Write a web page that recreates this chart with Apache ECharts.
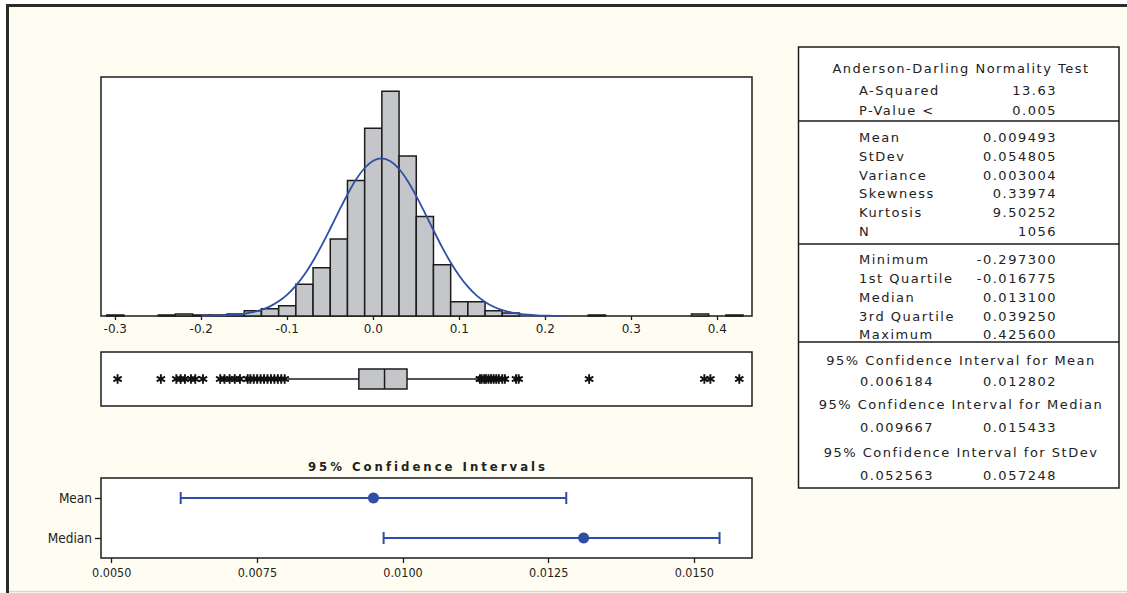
<!DOCTYPE html>
<html><head><meta charset="utf-8">
<script src="https://cdn.jsdelivr.net/npm/echarts@6/dist/echarts.min.js"></script>
<style>
html,body{margin:0;padding:0;background:#fff;}
#chart{width:1127px;height:593px;}
text[style*="Verdana"], text[font-family*="Verdana"]{letter-spacing:1.5px;}
text[style*="Tahoma"], text[font-family*="Tahoma"]{letter-spacing:3px;}
</style></head><body><div id="chart"></div>
<script>
// ---------------- data ----------------
const binWidth = 0.02;
const binCenters = [-0.30, -0.24, -0.22, -0.20, -0.18, -0.16, -0.14, -0.12, -0.10, -0.08, -0.06, -0.04, -0.02, 0.00, 0.02, 0.04, 0.06, 0.08, 0.10, 0.12, 0.14, 0.16, 0.26, 0.38, 0.42];
const binCounts  = [1, 1, 2, 1, 1, 2, 5, 7, 10, 31, 47, 75, 132, 183, 219, 156, 97, 50, 14, 14, 5, 3, 1, 2, 1];
const curveX = [-0.20, -0.19, -0.18, -0.17, -0.16, -0.15, -0.14, -0.13, -0.12, -0.11, -0.10, -0.09, -0.08, -0.07, -0.06, -0.05, -0.04, -0.03, -0.02, -0.01, 0.00, 0.01, 0.02, 0.03, 0.04, 0.05, 0.06, 0.07, 0.08, 0.09, 0.10, 0.11, 0.12, 0.13, 0.14, 0.15, 0.16, 0.17, 0.18, 0.19, 0.20, 0.21, 0.22];
const curveY = [0.1, 0.2, 0.4, 0.7, 1.3, 2.2, 3.7, 6.0, 9.4, 14.3, 20.9, 29.6, 40.5, 53.7, 68.8, 85.3, 102.2, 118.5, 133.0, 144.3, 151.4, 153.7, 150.9, 143.3, 131.6, 116.9, 100.5, 83.6, 67.1, 52.2, 39.3, 28.6, 20.1, 13.7, 9.0, 5.7, 3.5, 2.1, 1.2, 0.7, 0.4, 0.2, 0.1];
const histTicks = [-0.3, -0.2, -0.1, 0.0, 0.1, 0.2, 0.3, 0.4];

// boxplot: [lower whisker, Q1, median, Q3, upper whisker]
const boxStats = [-0.0995, -0.016775, 0.0131, 0.03925, 0.1215];
const outliers = [-0.2973, -0.247, -0.229, -0.224, -0.219, -0.212, -0.207, -0.198, -0.178, -0.173, -0.167, -0.161, -0.155,
  -0.146, -0.143, -0.139, -0.135, -0.131, -0.127, -0.123, -0.119, -0.115, -0.111, -0.107, -0.103,
  0.124, 0.126, 0.129, 0.131, 0.134, 0.137, 0.140, 0.143, 0.146, 0.150, 0.153, 0.166, 0.169, 0.251, 0.385, 0.392, 0.4256];

const ciNames = ['Mean', 'Median'];
const ciEst  = [0.009493, 0.0131];
const ciLow  = [0.006184, 0.009667];
const ciHigh = [0.012802, 0.015433];
const ciTicks = [0.0050, 0.0075, 0.0100, 0.0125, 0.0150];
const ciTitle = '95% Confidence Intervals';

const adTitle = 'Anderson-Darling Normality Test';
const adLabels = ['A-Squared', 'P-Value <'];
const adValues = ['13.63', '0.005'];
const momLabels = ['Mean', 'StDev', 'Variance', 'Skewness', 'Kurtosis', 'N'];
const momValues = ['0.009493', '0.054805', '0.003004', '0.33974', '9.50252', '1056'];
const quantLabels = ['Minimum', '1st Quartile', 'Median', '3rd Quartile', 'Maximum'];
const quantValues = ['-0.297300', '-0.016775', '0.013100', '0.039250', '0.425600'];
const ciTableTitles = ['95% Confidence Interval for Mean', '95% Confidence Interval for Median', '95% Confidence Interval for StDev'];
const ciTableLow  = ['0.006184', '0.009667', '0.052563'];
const ciTableHigh = ['0.012802', '0.015433', '0.057248'];

// ---------------- layout / style ----------------
const FONT_AXIS = "'DejaVu Sans', sans-serif";
const FONT_COND = "'DejaVu Sans Condensed', sans-serif";
const FONT_TABLE = "Verdana, 'DejaVu Sans', sans-serif";
const FONT_TITLE = "Tahoma, 'DejaVu Sans Condensed', sans-serif";
const INK = '#1c1c1c';
const BLUE = '#2f4fa6';
const GRAY = '#c5c6ca';
const X_MIN = -0.3166, X_MAX = 0.4404;

const chart = echarts.init(document.getElementById('chart'), null, {renderer: 'svg'});

function txt(text, x, y, align, opts) {
  opts = opts || {};
  return {
    type: 'text', x: x, y: y, silent: true,
    style: Object.assign({
      text: text, fill: '#222', fontSize: 13, fontFamily: FONT_TABLE,
      align: align, textAlign: align, verticalAlign: 'middle', textVerticalAlign: 'middle'
    }, opts)
  };
}

const g = [];
// outer frame
g.push({type: 'rect', shape: {x: 0, y: 0, width: 1127, height: 4}, style: {fill: '#fff'}, silent: true});
g.push({type: 'rect', shape: {x: 0, y: 0, width: 6, height: 593}, style: {fill: '#fff'}, silent: true});
g.push({type: 'line', shape: {x1: 6, y1: 5.5, x2: 1127, y2: 5.5}, style: {stroke: '#2a2a2a', lineWidth: 3}, silent: true});
g.push({type: 'line', shape: {x1: 7.5, y1: 4, x2: 7.5, y2: 593}, style: {stroke: '#2a2a2a', lineWidth: 3}, silent: true});
g.push({type: 'line', shape: {x1: 9, y1: 591.5, x2: 1127, y2: 591.5}, style: {stroke: '#d9d9d9', lineWidth: 1.5}, silent: true});
// table box
g.push({type: 'rect', shape: {x: 798.5, y: 47, width: 320.5, height: 441}, style: {fill: '#fff', stroke: INK, lineWidth: 1.5}, silent: true});
[121, 244, 342].forEach(function (yy) {
  g.push({type: 'line', shape: {x1: 798.5, y1: yy, x2: 1119, y2: yy}, style: {stroke: INK, lineWidth: 1.5}, silent: true});
});
// CI title
g.push(txt(ciTitle, 428, 466, 'center', {fontFamily: FONT_TITLE, fontWeight: 'bold', fontSize: 13, fill: '#222'}));
// table text
const LX = 859, RX = 1057;
g.push(txt(adTitle, 961, 68, 'center'));
const adY = [90, 110];
adLabels.forEach(function (l, i) { g.push(txt(l, LX, adY[i], 'left')); g.push(txt(adValues[i], RX, adY[i], 'right')); });
const momY = [137, 156, 175, 193.5, 212, 231];
momLabels.forEach(function (l, i) { g.push(txt(l, LX, momY[i], 'left')); g.push(txt(momValues[i], RX, momY[i], 'right')); });
const quantY = [259, 278, 297, 316, 334];
quantLabels.forEach(function (l, i) { g.push(txt(l, LX, quantY[i], 'left')); g.push(txt(quantValues[i], RX, quantY[i], 'right')); });
const ciTY = [360, 404, 452], ciVY = [381, 427, 475];
ciTableTitles.forEach(function (t, i) {
  g.push(txt(t, 961, ciTY[i], 'center'));
  g.push(txt(ciTableLow[i], 860, ciVY[i], 'left'));
  g.push(txt(ciTableHigh[i], RX, ciVY[i], 'right'));
});

const gridBase = {show: true, backgroundColor: '#fff', borderColor: INK, borderWidth: 1.5, containLabel: false};

const option = {
  animation: false,
  backgroundColor: '#fffdf1',
  grid: [
    Object.assign({left: 101, top: 77, width: 651, height: 239}, gridBase),
    Object.assign({left: 101, top: 352, width: 651, height: 54}, gridBase),
    Object.assign({left: 101, top: 478, width: 651, height: 80}, gridBase)
  ],
  xAxis: [
    {gridIndex: 0, type: 'value', min: X_MIN, max: X_MAX, axisLine: {show: false}, splitLine: {show: false},
      axisTick: {show: true, customValues: histTicks, length: 4, lineStyle: {color: INK, width: 1.3}},
      axisLabel: {customValues: histTicks, formatter: function (v) { return v.toFixed(1); }, fontFamily: FONT_AXIS, fontSize: 12, color: '#222', margin: 7}},
    {gridIndex: 1, type: 'value', min: X_MIN, max: X_MAX, show: false},
    {gridIndex: 2, type: 'value', min: 0.004816, max: 0.01599, axisLine: {show: false}, splitLine: {show: false},
      axisTick: {show: true, customValues: ciTicks, length: 5, lineStyle: {color: INK, width: 1.3}},
      axisLabel: {customValues: ciTicks, formatter: function (v) { return v.toFixed(4); }, fontFamily: FONT_COND, fontSize: 12.5, color: '#222', margin: 8}}
  ],
  yAxis: [
    {gridIndex: 0, type: 'value', min: 0, max: 233, show: false},
    {gridIndex: 1, type: 'value', min: 0, max: 1, show: false},
    {gridIndex: 2, type: 'category', data: ciNames, inverse: true, axisLine: {show: false}, splitLine: {show: false},
      axisTick: {show: true, alignWithLabel: true, length: 6, lineStyle: {color: INK, width: 1.3}},
      axisLabel: {fontFamily: FONT_COND, fontSize: 13.5, color: '#222', margin: 9}}
  ],
  series: [
    {
      type: 'custom', name: 'hist', xAxisIndex: 0, yAxisIndex: 0, z: 2,
      data: binCenters.map(function (c, i) { return [c - binWidth / 2, c + binWidth / 2, binCounts[i]]; }),
      encode: {x: [0, 1], y: 2},
      renderItem: function (params, api) {
        const p0 = api.coord([api.value(0), 0]);
        const p1 = api.coord([api.value(1), api.value(2)]);
        return {type: 'rect', shape: {x: p0[0], y: p1[1], width: p1[0] - p0[0], height: p0[1] - p1[1]},
          style: {fill: GRAY, stroke: INK, lineWidth: 1.5}};
      }
    },
    {
      type: 'line', name: 'normal', xAxisIndex: 0, yAxisIndex: 0, z: 5,
      data: curveX.map(function (x, i) { return [x, curveY[i]]; }),
      smooth: 0.3, showSymbol: false, symbol: 'none',
      lineStyle: {color: BLUE, width: 1.8}
    },
    {
      type: 'custom', name: 'box', xAxisIndex: 1, yAxisIndex: 1, z: 3,
      data: [boxStats],
      encode: {x: [0, 1, 2, 3, 4]},
      renderItem: function (params, api) {
        const lo = api.coord([api.value(0), 0.5]);
        const q1 = api.coord([api.value(1), 0.5]);
        const md = api.coord([api.value(2), 0.5]);
        const q3 = api.coord([api.value(3), 0.5]);
        const hi = api.coord([api.value(4), 0.5]);
        const h = 10;
        const ls = {stroke: INK, lineWidth: 1.5};
        return {type: 'group', children: [
          {type: 'line', shape: {x1: lo[0], y1: lo[1], x2: q1[0], y2: q1[1]}, style: ls},
          {type: 'line', shape: {x1: q3[0], y1: q3[1], x2: hi[0], y2: hi[1]}, style: ls},
          {type: 'rect', shape: {x: q1[0], y: q1[1] - h, width: q3[0] - q1[0], height: 2 * h}, style: {fill: GRAY, stroke: INK, lineWidth: 1.5}},
          {type: 'line', shape: {x1: md[0], y1: md[1] - h, x2: md[0], y2: md[1] + h}, style: ls}
        ]};
      }
    },
    {
      type: 'custom', name: 'outliers', xAxisIndex: 1, yAxisIndex: 1, z: 4,
      data: outliers.map(function (v) { return [v]; }),
      encode: {x: 0},
      renderItem: function (params, api) {
        const c = api.coord([api.value(0), 0.5]);
        const r = 4.8;
        const ls = {stroke: '#111', lineWidth: 1.9};
        const kids = [0, 60, 120].map(function (a) {
          const t = (a + 90) * Math.PI / 180;
          return {type: 'line', shape: {x1: c[0] - r * Math.cos(t), y1: c[1] - r * Math.sin(t), x2: c[0] + r * Math.cos(t), y2: c[1] + r * Math.sin(t)}, style: ls};
        });
        return {type: 'group', children: kids};
      }
    },
    {
      type: 'custom', name: 'ci', xAxisIndex: 2, yAxisIndex: 2, z: 4,
      data: ciNames.map(function (n, i) { return [i, ciLow[i], ciHigh[i], ciEst[i]]; }),
      encode: {y: 0, x: [1, 2, 3]},
      renderItem: function (params, api) {
        const cat = api.value(0);
        const a = api.coord([api.value(1), cat]);
        const b = api.coord([api.value(2), cat]);
        const e = api.coord([api.value(3), cat]);
        const cap = 6;
        const ls = {stroke: BLUE, lineWidth: 2};
        return {type: 'group', children: [
          {type: 'line', shape: {x1: a[0], y1: a[1], x2: b[0], y2: b[1]}, style: ls},
          {type: 'line', shape: {x1: a[0], y1: a[1] - cap, x2: a[0], y2: a[1] + cap}, style: ls},
          {type: 'line', shape: {x1: b[0], y1: b[1] - cap, x2: b[0], y2: b[1] + cap}, style: ls},
          {type: 'circle', shape: {cx: e[0], cy: e[1], r: 5.5}, style: {fill: BLUE}}
        ]};
      }
    }
  ],
  graphic: {elements: g}
};
chart.setOption(option);
</script></body></html>
